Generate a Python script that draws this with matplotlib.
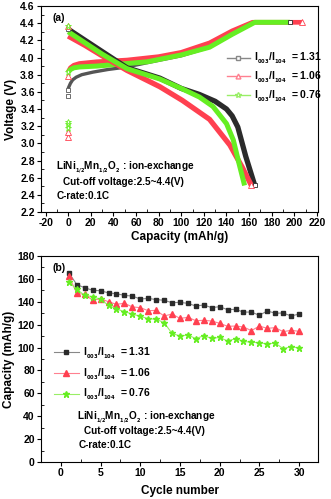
import matplotlib
matplotlib.use('Agg')
import matplotlib.pyplot as plt
from matplotlib.ticker import MultipleLocator
from matplotlib.lines import Line2D

plt.rcParams['font.family'] = ['Liberation Sans', 'DejaVu Sans']
plt.rcParams['font.weight'] = 'bold'
plt.rcParams['mathtext.default'] = 'bf'

# ---- (a) charge / discharge curves ----
labels = ['I$_{_{003}}$/I$_{_{104}}$  = 1.31', 'I$_{_{003}}$/I$_{_{104}}$  = 1.06', 'I$_{_{003}}$/I$_{_{104}}$  = 0.76']

chg_cap_k = [0, 2, 4, 7, 12, 22, 35, 52, 70, 100, 125, 145, 165, 196]
chg_v_k = [3.64, 3.70, 3.74, 3.77, 3.80, 3.83, 3.86, 3.89, 3.94, 4.02, 4.12, 4.27, 4.41, 4.41]
chg_cap_r = [0, 2, 5, 10, 25, 52, 80, 100, 125, 145, 163, 207]
chg_v_r = [3.83, 3.88, 3.91, 3.93, 3.95, 3.97, 4.01, 4.06, 4.17, 4.31, 4.41, 4.41]
chg_cap_g = [0, 2, 5, 10, 25, 52, 70, 100, 125, 145, 165, 196]
chg_v_g = [3.83, 3.86, 3.88, 3.89, 3.90, 3.93, 3.95, 4.03, 4.12, 4.27, 4.41, 4.41]

dis_cap_k = [0, 15, 30, 52, 81, 100, 116, 130, 140, 145, 150, 157, 165]
dis_v_k = [4.33, 4.20, 4.07, 3.88, 3.76, 3.64, 3.57, 3.49, 3.40, 3.32, 3.19, 2.85, 2.51]
dis_cap_r = [0, 15, 30, 52, 81, 101, 125, 143, 154, 162]
dis_v_r = [4.25, 4.14, 4.02, 3.85, 3.66, 3.50, 3.28, 2.98, 2.72, 2.51]
dis_cap_g = [0, 15, 30, 52, 81, 100, 116, 128, 140, 146, 151, 156]
dis_v_g = [4.30, 4.17, 4.04, 3.87, 3.75, 3.64, 3.54, 3.43, 3.23, 3.04, 2.77, 2.51]

# scattered first points at zero capacity
pts_k = [3.55, 3.62, 4.33]
pts_r = [3.08, 3.13, 3.78, 4.37]
pts_g = [3.18, 3.22, 3.25, 3.83, 4.37]

# ---- (b) cycling ----
cycles = list(range(1, 31))
cap_k = [165.4, 155, 152.3, 150, 149.7, 147.7, 147, 145.6, 145, 142.4, 143, 141.9, 141.3, 139.2, 139.5,
         138.6, 136.3, 137.2, 134.9, 135.7, 133.1, 133.4, 131, 131, 128.2, 132, 130, 130.2, 127.6, 129.3]
cap_r = [162.5, 147.4, 146.5, 141.3, 142.7, 140, 137.8, 138.7, 135.5, 134.9, 132.2, 132.5, 127.6, 129.3, 125.5,
         126.4, 123.5, 123.8, 123.2, 121.2, 118.6, 118.8, 118, 114.8, 118.8, 116.8, 117.4, 113.9, 115.1, 114.2]
cap_g = [157.3, 150.9, 145.6, 144.5, 142.1, 136.9, 133.7, 131.4, 129.3, 127.3, 125.3, 124.7, 121.8, 112.4, 110.1,
         111, 107.8, 110.4, 108, 108.9, 105.7, 107.8, 105.4, 104.6, 104.3, 103.1, 104, 99, 100.8, 99.6]

c_k, c_r, c_g = '#2b2b2b', '#ff4050', '#66ee22'
l_k, l_r, l_g = '#888888', '#ff8090', '#99ee66'

fig = plt.figure(figsize=(3.31, 4.99), dpi=100)
ax1 = fig.add_axes([0.124, 0.575, 0.837, 0.413])
ax2 = fig.add_axes([0.124, 0.074, 0.837, 0.413])

for ax in (ax1, ax2):
    ax.tick_params(which='major', direction='out', length=3, width=0.8, labelsize=7.5, pad=1.5)
    ax.tick_params(which='minor', direction='in', length=2, width=0.6)
    for s in ax.spines.values():
        s.set_linewidth(0.8)

kw = dict(solid_capstyle='butt', solid_joinstyle='round')
ax1.plot(chg_cap_k, chg_v_k, color='#555555', lw=2.4, **kw)
ax1.plot(chg_cap_r, chg_v_r, color=c_r, lw=3.4, **kw)
ax1.plot(chg_cap_g, chg_v_g, color=c_g, lw=3.6, **kw)
ax1.plot(dis_cap_k, dis_v_k, color=c_k, lw=3.8, **kw)
ax1.plot(dis_cap_r, dis_v_r, color=c_r, lw=3.8, **kw)
ax1.plot(dis_cap_g, dis_v_g, color=c_g, lw=3.6, **kw)
ax1.plot([0] * len(pts_k), pts_k, 's', mfc='white', mec='#555555', ms=3, mew=0.6)
ax1.plot([0] * len(pts_r), pts_r, '^', mfc='white', mec=c_r, ms=4, mew=0.6)
ax1.plot([0] * len(pts_g), pts_g, '*', mfc='white', mec=c_g, ms=4.5, mew=0.6)
ax1.plot([chg_cap_k[-1], dis_cap_k[-1]], [chg_v_k[-1], dis_v_k[-1]], 's', mfc='white', mec=c_k, ms=3.5, mew=0.6)
ax1.plot([chg_cap_r[-1], dis_cap_r[-1]], [chg_v_r[-1], dis_v_r[-1]], '^', mfc='white', mec=c_r, ms=4, mew=0.6)

ax1.set_xlim(-24, 221)
ax1.set_ylim(2.2, 4.6)
ax1.set_xticks(range(-20, 221, 20))
ax1.set_xticklabels([str(v) for v in range(-20, 221, 20)], fontweight='bold')
ax1.xaxis.set_minor_locator(MultipleLocator(10))
ax1.set_yticks([2.2 + 0.2 * i for i in range(13)])
ax1.set_yticklabels(['%.1f' % (2.2 + 0.2 * i) for i in range(13)], fontweight='bold')
ax1.yaxis.set_minor_locator(MultipleLocator(0.1))
ax1.set_xlabel('Capacity (mAh/g)', fontsize=8.5, fontweight='bold', labelpad=2)
ax1.set_ylabel('Voltage (V)', fontsize=8.5, fontweight='bold', labelpad=2)
ax1.text(0.04, 0.965, '(a)', transform=ax1.transAxes, fontsize=7.5, fontweight='bold', va='top')

h1 = [Line2D([], [], color=l_k, lw=1, marker='s', mfc='white', mec=l_k, ms=3),
      Line2D([], [], color=l_r, lw=1, marker='^', mfc='white', mec=l_r, ms=3.5),
      Line2D([], [], color=l_g, lw=1, marker='*', mfc='white', mec=l_g, ms=4)]
leg1 = ax1.legend(h1, labels, loc='upper left', bbox_to_anchor=(0.655, 0.80), frameon=False,
                  fontsize=7.5, handlelength=2.2, handletextpad=0.45, labelspacing=0.35, borderaxespad=0)
for t in leg1.get_texts():
    t.set_fontweight('bold')

ann1 = 'LiNi$_{_{1/2}}$Mn$_{_{1/2}}$O$_{_2}$ : ion-exchange'
ax1.text(0.055, 0.205, ann1, transform=ax1.transAxes, fontsize=7.2, fontweight='bold')
ax1.text(0.078, 0.13, 'Cut-off voltage:2.5~4.4(V)', transform=ax1.transAxes, fontsize=7.2, fontweight='bold')
ax1.text(0.055, 0.065, 'C-rate:0.1C', transform=ax1.transAxes, fontsize=7.2, fontweight='bold')

# ---- (b) ----
ax2.plot(cycles, cap_k, color=l_k, lw=0.8, marker='s', mfc=c_k, mec=c_k, ms=3.2, label=labels[0])
ax2.plot(cycles, cap_r, color=l_r, lw=0.8, marker='^', mfc=c_r, mec=c_r, ms=3.8, label=labels[1])
ax2.plot(cycles, cap_g, color=l_g, lw=0.8, marker='*', mfc=c_g, mec=c_g, ms=4.5, label=labels[2])
ax2.set_xlim(-2.5, 32.4)
ax2.set_ylim(0, 180)
ax2.set_xticks(range(0, 31, 5))
ax2.set_xticklabels([str(v) for v in range(0, 31, 5)], fontweight='bold')
ax2.xaxis.set_minor_locator(MultipleLocator(2.5))
ax2.set_yticks(range(0, 181, 20))
ax2.set_yticklabels([str(v) for v in range(0, 181, 20)], fontweight='bold')
ax2.yaxis.set_minor_locator(MultipleLocator(10))
ax2.set_xlabel('Cycle number', fontsize=8.5, fontweight='bold', labelpad=5)
ax2.set_ylabel('Capacity (mAh/g)', fontsize=8.5, fontweight='bold', labelpad=2)
ax2.text(0.04, 0.965, '(b)', transform=ax2.transAxes, fontsize=7.5, fontweight='bold', va='top')
leg2 = ax2.legend(loc='upper left', bbox_to_anchor=(0.03, 0.585), frameon=False, fontsize=7.5,
                  handlelength=2.4, handletextpad=0.45, labelspacing=0.55, borderaxespad=0)
for t in leg2.get_texts():
    t.set_fontweight('bold')
ax2.text(0.13, 0.205, ann1, transform=ax2.transAxes, fontsize=7.2, fontweight='bold')
ax2.text(0.155, 0.135, 'Cut-off voltage:2.5~4.4(V)', transform=ax2.transAxes, fontsize=7.2, fontweight='bold')
ax2.text(0.135, 0.07, 'C-rate:0.1C', transform=ax2.transAxes, fontsize=7.2, fontweight='bold')

fig.savefig('out.png', dpi=100)
